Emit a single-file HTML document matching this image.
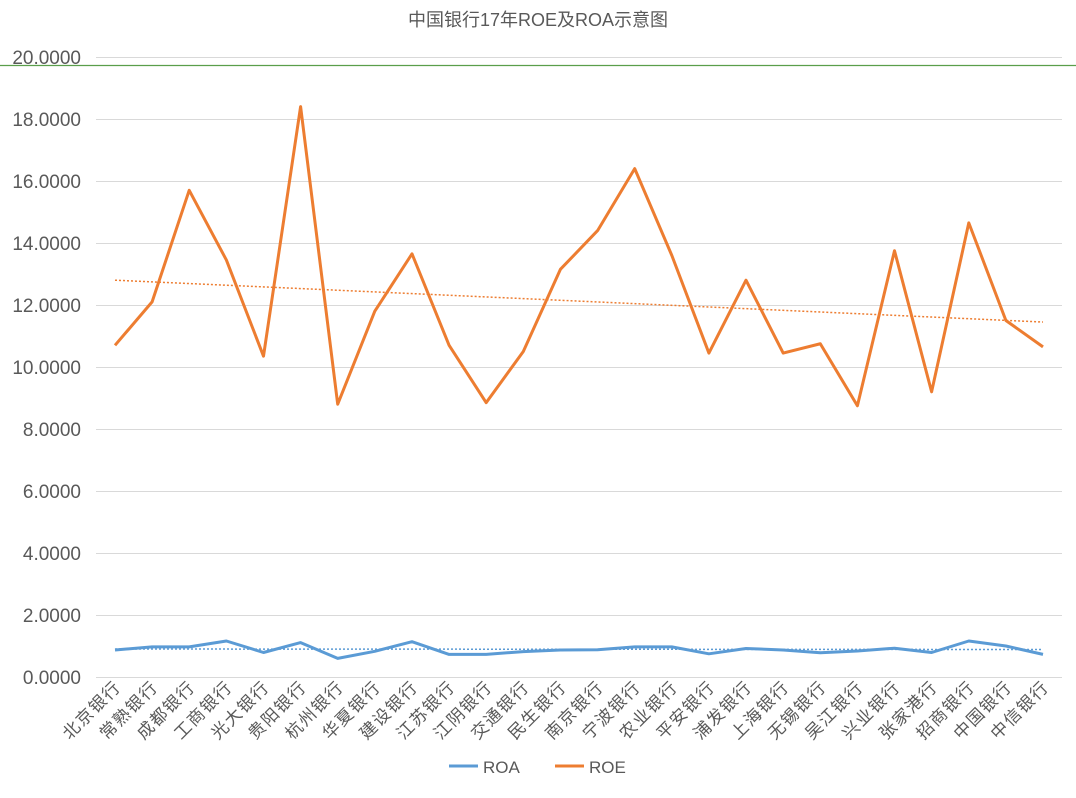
<!DOCTYPE html>
<html><head><meta charset="utf-8"><style>
body{margin:0;background:#fff}
svg{display:block;font-family:"Liberation Sans","Noto Sans CJK SC",sans-serif}
</style></head><body>
<svg width="1076" height="798" viewBox="0 0 1076 798">
<rect width="1076" height="798" fill="#fff"/>
<text x="538" y="26" text-anchor="middle" font-size="18" fill="#595959">中国银行17年ROE及ROA示意图</text>
<g stroke="#d9d9d9" stroke-width="1">
<line x1="96" x2="1062" y1="57.5" y2="57.5"/><line x1="96" x2="1062" y1="119.5" y2="119.5"/>
<line x1="96" x2="1062" y1="181.5" y2="181.5"/><line x1="96" x2="1062" y1="243.5" y2="243.5"/>
<line x1="96" x2="1062" y1="305.5" y2="305.5"/><line x1="96" x2="1062" y1="367.5" y2="367.5"/>
<line x1="96" x2="1062" y1="429.5" y2="429.5"/><line x1="96" x2="1062" y1="491.5" y2="491.5"/>
<line x1="96" x2="1062" y1="553.5" y2="553.5"/><line x1="96" x2="1062" y1="615.5" y2="615.5"/>
<line x1="96" x2="1062" y1="677.5" y2="677.5"/>
</g>
<line x1="0" x2="1076" y1="65.5" y2="65.5" stroke="#5a9e4a" stroke-width="1.2"/>
<g font-size="19" fill="#595959" text-anchor="end">
<text x="81" y="64">20.0000</text><text x="81" y="126">18.0000</text><text x="81" y="188">16.0000</text>
<text x="81" y="250">14.0000</text><text x="81" y="312">12.0000</text><text x="81" y="374">10.0000</text>
<text x="81" y="436">8.0000</text><text x="81" y="498">6.0000</text><text x="81" y="560">4.0000</text>
<text x="81" y="622">2.0000</text><text x="81" y="684">0.0000</text>
</g>
<line x1="115" y1="280.2" x2="1043" y2="322.05" stroke="#ed7d31" stroke-width="1.5" stroke-dasharray="2,2"/>
<line x1="115" y1="649" x2="1043" y2="649.5" stroke="#5b9bd5" stroke-width="1.5" stroke-dasharray="2,2"/>
<polyline fill="none" stroke="#ed7d31" stroke-width="3" stroke-linejoin="round" points="115,345.3 152.1,301.9 189.2,190.3 226.4,260.05 263.5,356.15 300.6,106.6 337.7,404.2 374.8,311.2 412,253.85 449.1,345.3 486.2,402.65 523.3,351.5 560.4,269.35 597.6,230.6 634.7,168.6 671.8,255.4 708.9,353.05 746,280.2 783.2,353.05 820.3,343.75 857.4,405.75 894.5,250.75 931.6,391.8 968.8,222.85 1005.9,320.5 1043,346.85"/>
<polyline fill="none" stroke="#5b9bd5" stroke-width="3" stroke-linejoin="round" points="115,650 152.1,646.9 189.2,646.9 226.4,641 263.5,652.5 300.6,642.6 337.7,658.4 374.8,651.3 412,641.7 449.1,654.4 486.2,654.4 523.3,651.6 560.4,650 597.6,649.7 634.7,646.9 671.8,646.9 708.9,653.8 746,648.5 783.2,650 820.3,652.8 857.4,651 894.5,648.2 931.6,652.5 968.8,641 1005.9,646 1043,654.4"/>
<g font-size="17" fill="#595959" text-anchor="end" letter-spacing="1.5">
<text transform="translate(122,688) rotate(-45)">北京银行</text>
<text transform="translate(159.1,688) rotate(-45)">常熟银行</text>
<text transform="translate(196.2,688) rotate(-45)">成都银行</text>
<text transform="translate(233.4,688) rotate(-45)">工商银行</text>
<text transform="translate(270.5,688) rotate(-45)">光大银行</text>
<text transform="translate(307.6,688) rotate(-45)">贵阳银行</text>
<text transform="translate(344.7,688) rotate(-45)">杭州银行</text>
<text transform="translate(381.8,688) rotate(-45)">华夏银行</text>
<text transform="translate(419,688) rotate(-45)">建设银行</text>
<text transform="translate(456.1,688) rotate(-45)">江苏银行</text>
<text transform="translate(493.2,688) rotate(-45)">江阴银行</text>
<text transform="translate(530.3,688) rotate(-45)">交通银行</text>
<text transform="translate(567.4,688) rotate(-45)">民生银行</text>
<text transform="translate(604.6,688) rotate(-45)">南京银行</text>
<text transform="translate(641.7,688) rotate(-45)">宁波银行</text>
<text transform="translate(678.8,688) rotate(-45)">农业银行</text>
<text transform="translate(715.9,688) rotate(-45)">平安银行</text>
<text transform="translate(753,688) rotate(-45)">浦发银行</text>
<text transform="translate(790.2,688) rotate(-45)">上海银行</text>
<text transform="translate(827.3,688) rotate(-45)">无锡银行</text>
<text transform="translate(864.4,688) rotate(-45)">吴江银行</text>
<text transform="translate(901.5,688) rotate(-45)">兴业银行</text>
<text transform="translate(938.6,688) rotate(-45)">张家港行</text>
<text transform="translate(975.8,688) rotate(-45)">招商银行</text>
<text transform="translate(1012.9,688) rotate(-45)">中国银行</text>
<text transform="translate(1050,688) rotate(-45)">中信银行</text>
</g>
<line x1="449" x2="478" y1="766" y2="766" stroke="#5b9bd5" stroke-width="3"/>
<text x="483" y="773" font-size="17" fill="#595959">ROA</text>
<line x1="555" x2="584" y1="766" y2="766" stroke="#ed7d31" stroke-width="3"/>
<text x="589" y="773" font-size="17" fill="#595959">ROE</text>
</svg>
</body></html>
